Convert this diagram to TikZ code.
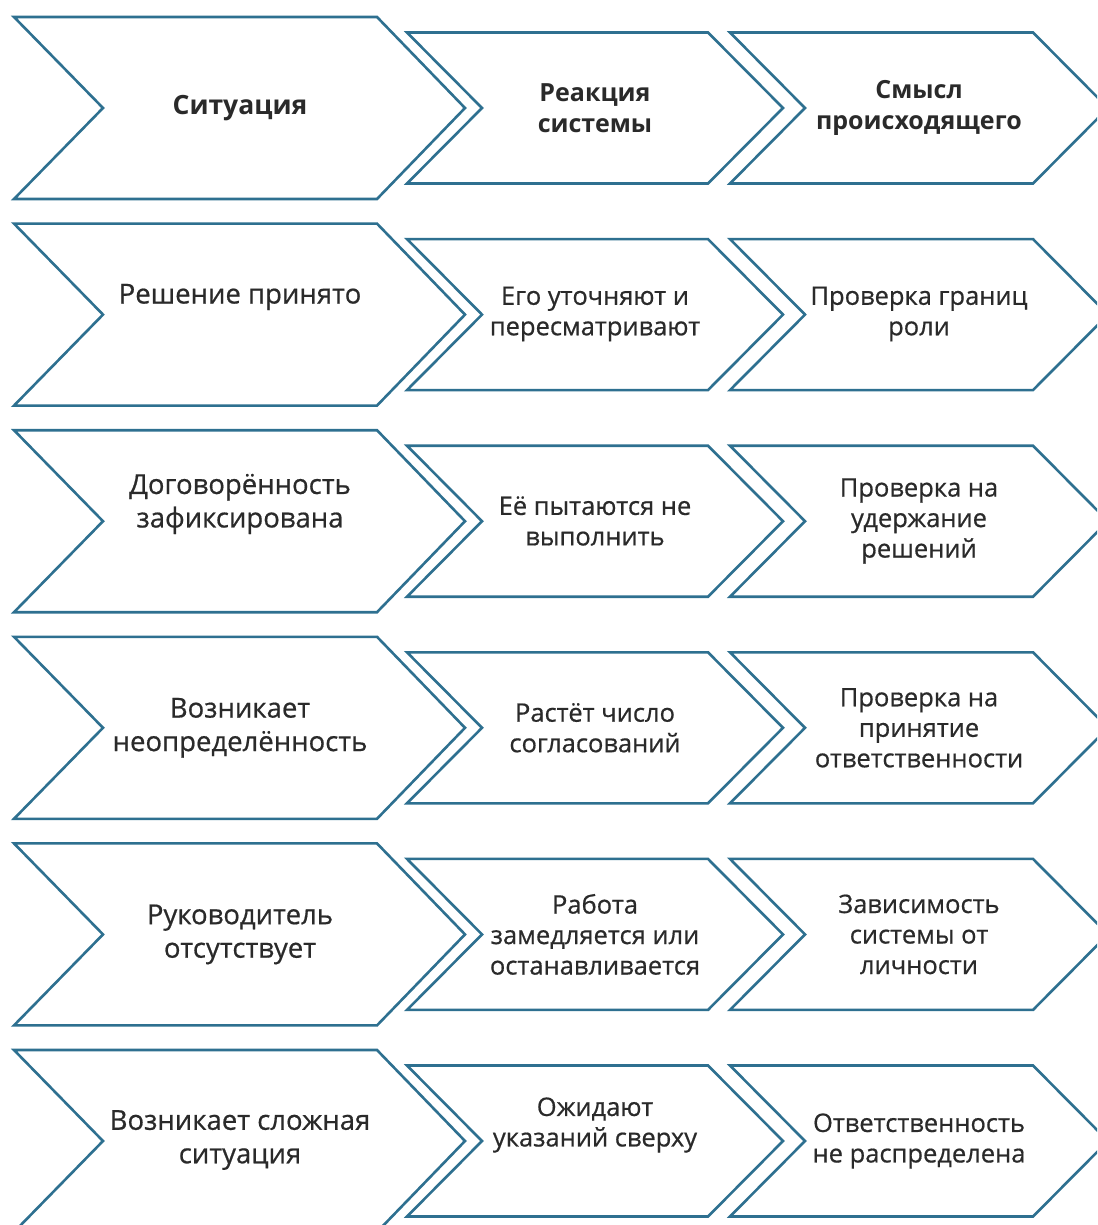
\documentclass[tikz,border=0pt]{standalone}
\usepackage{fontspec}
\setmainfont{Open Sans}
\newfontfamily\medfont[FakeBold=0.6]{Open Sans}
\definecolor{chev}{HTML}{2E7090}
\definecolor{txt}{HTML}{2A2A2A}
\tikzset{
  chevline/.style={draw=chev, line width=2.6pt, line join=miter, fill=white},
  big/.style={align=center, text=txt, font=\medfont\fontsize{27.5}{33.5}\selectfont},
  small/.style={align=center, text=txt, font=\medfont\fontsize{25.5}{30.5}\selectfont},
  bighead/.style={align=center, text=txt, font=\bfseries\fontsize{26.5}{30.5}\selectfont},
  smallhead/.style={align=center, text=txt, font=\bfseries\fontsize{25}{30.5}\selectfont},
}
\newcommand\mkbig[1]{\path[chevline] (14,#1-91) -- (377,#1-91) -- (465,#1) -- (377,#1+91) -- (14,#1+91) -- (103,#1) -- cycle;}
\newcommand\mkmid[1]{\path[chevline] (407,#1-75.5) -- (708,#1-75.5) -- (783,#1) -- (708,#1+75.5) -- (407,#1+75.5) -- (482,#1) -- cycle;}
\newcommand\mkright[1]{\path[chevline] (730,#1-75.5) -- (1033,#1-75.5) -- (1108,#1) -- (1033,#1+75.5) -- (730,#1+75.5) -- (805,#1) -- cycle;}
\begin{document}
\begin{tikzpicture}[x=1pt,y=-1pt]
\useasboundingbox (0,0) rectangle (1097,1225);
\clip (0,0) rectangle (1097,1225);
\fill[white] (0,0) rectangle (1097,1225);
% rows
\foreach \c in {108,314.6,521.2,727.8,934.4,1141}{
  \mkbig{\c}
  \mkmid{\c}
  \mkright{\c}
}
% row 1
\node[bighead] (h1) at (240,108) {Ситуация};
\node[smallhead] (h2) at (595,108) {Реакция\\системы};
\node[smallhead] (h3) at (919,108) {Смысл\\происходящего};
% row 2
\node[big] (a2) at (240,297) {Решение принято};
\node[small] (b2) at (595,314) {Его уточняют и\\пересматривают};
\node[small] (c2) at (919,314) {Проверка границ\\роли};
% row 3
\node[big] (a3) at (240,504) {Договорённость\\зафиксирована};
\node[small] (b3) at (595,521) {Её пытаются не\\выполнить};
\node[small] (c3) at (919,521) {Проверка на\\удержание\\решений};
% row 4
\node[big] (a4) at (240,727.8) {Возникает\\неопределённость};
\node[small] (b4) at (595,727.8) {Растёт число\\согласований};
\node[small] (c4) at (919,727.8) {Проверка на\\принятие\\ответственности};
% row 5
\node[big] (a5) at (240,934.4) {Руководитель\\отсутствует};
\node[small] (b5) at (595,934.4) {Работа\\замедляется или\\останавливается};
\node[small] (c5) at (919,934.4) {Зависимость\\системы от\\личности};
% row 6
\node[big] (a6) at (240,1140) {Возникает сложная\\ситуация};
\node[small] (b6) at (595,1125) {Ожидают\\указаний сверху};
\node[small] (c6) at (919,1141) {Ответственность\\не распределена};
\end{tikzpicture}
\end{document}
